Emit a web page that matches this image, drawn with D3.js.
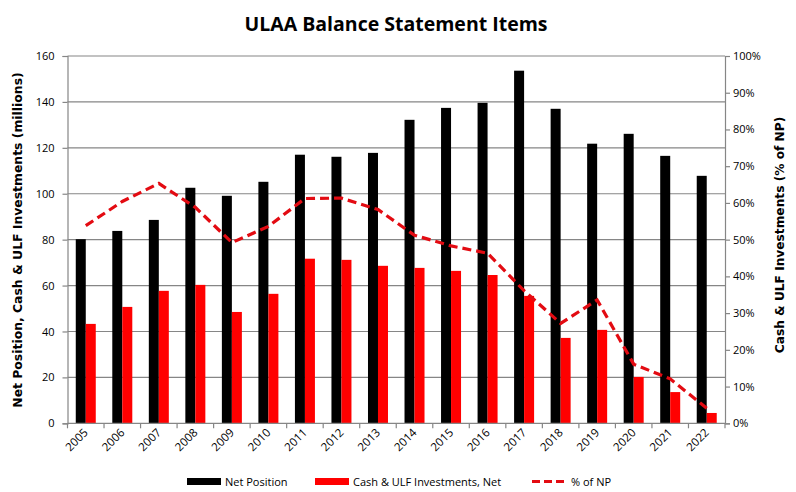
<!DOCTYPE html>
<html><head><meta charset="utf-8">
<script src="https://cdn.jsdelivr.net/npm/d3@7"></script>
<style>body{margin:0;background:#fff;} svg{display:block;font-family:"Open Sans",sans-serif;}</style>
</head><body><svg id="c" width="796" height="492"></svg>
<script>
const years = ["2005","2006","2007","2008","2009","2010","2011","2012","2013","2014","2015","2016","2017","2018","2019","2020","2021","2022"];
const netPosition = [80.2,83.8,88.6,102.6,99.1,105.2,117,116.1,117.8,132.2,137.4,139.6,153.6,137,121.8,126.1,116.5,107.8];
const cashULF = [43.3,50.7,57.7,60.3,48.5,56.4,71.7,71.2,68.6,67.7,66.4,64.6,55.5,37.2,40.7,20.2,13.6,4.5];
const pctNP = [0.538,0.604,0.653,0.588,0.492,0.536,0.612,0.613,0.582,0.512,0.483,0.463,0.361,0.272,0.336,0.161,0.121,0.041];
const leftTicks = [0,20,40,60,80,100,120,140,160];
const rightTicks = [0,0.1,0.2,0.3,0.4,0.5,0.6,0.7,0.8,0.9,1.0];

const svg = d3.select("#c");
const L = 67.5, R = 725, T = 56, B = 423.3;
const x = d3.scaleBand().domain(years).range([L, R]).paddingInner(0).paddingOuter(0);
const y = d3.scaleLinear().domain([0,160]).range([B, T]);
const y2 = d3.scaleLinear().domain([0,1]).range([B, T]);
const grey = "#868686";
const FONT = "Open Sans";
const TFONT = "DejaVu Sans";

// gridlines
svg.append("g").selectAll("line").data(leftTicks.slice(1)).join("line")
  .attr("x1", L).attr("x2", R).attr("y1", d=>y(d)).attr("y2", d=>y(d))
  .attr("stroke", grey).attr("stroke-width", 1.2);

// bars
const bw = 10;
const g = svg.append("g");
g.selectAll("rect.np").data(years).join("rect")
  .attr("x", d => x(d) + x.bandwidth()/2 - bw)
  .attr("width", bw)
  .attr("y", (d,i) => y(netPosition[i]))
  .attr("height", (d,i) => B - y(netPosition[i]))
  .attr("fill", "#000");
g.selectAll("rect.cash").data(years).join("rect")
  .attr("x", d => x(d) + x.bandwidth()/2)
  .attr("width", bw)
  .attr("y", (d,i) => y(cashULF[i]))
  .attr("height", (d,i) => B - y(cashULF[i]))
  .attr("fill", "#ff0000");

// line
const line = d3.line().x((d,i)=>x(years[i]) + x.bandwidth()/2).y(d=>y2(d));
svg.append("path").datum(pctNP).attr("d", line)
  .attr("fill","none").attr("stroke","#e30b12").attr("stroke-width",3.2)
  .attr("stroke-dasharray","9,5");

// axes
const axL = svg.append("g").attr("transform",`translate(${L},0)`)
  .call(d3.axisLeft(y).tickValues(leftTicks).tickSize(5).tickPadding(8));
const axR = svg.append("g").attr("transform",`translate(${R},0)`)
  .call(d3.axisRight(y2).tickValues(rightTicks).tickSize(5).tickPadding(3).tickFormat(d3.format(".0%")));
const axB = svg.append("g").attr("transform",`translate(0,${B})`)
  .call(d3.axisBottom(x).tickSize(0).tickFormat(""));
[axL, axR, axB].forEach(a => {
  a.select(".domain").attr("stroke", grey).attr("stroke-width",1.2);
  a.selectAll(".tick line").attr("stroke", grey).attr("stroke-width",1.2);
  a.selectAll("text").attr("font-family",FONT).attr("font-size","11px").attr("fill","#000");
});
axB.select(".domain").attr("d", `M${L},0H${R}`);
// category boundary ticks
svg.append("g").selectAll("line").data(years.concat(["end"])).join("line")
  .attr("x1",(d,i)=> L + i*x.bandwidth()).attr("x2",(d,i)=> L + i*x.bandwidth())
  .attr("y1",B).attr("y2",B+5).attr("stroke",grey).attr("stroke-width",1.2);
// x labels
svg.append("g").selectAll("text").data(years).join("text")
  .attr("transform", d => `translate(${x(d)+x.bandwidth()/2+3},${B+10}) rotate(-45)`)
  .attr("text-anchor","end").attr("font-family",FONT).attr("font-size","11.5px").text(d=>d);

// titles
svg.append("text").attr("x",396).attr("y",31).attr("text-anchor","middle").attr("font-family",FONT)
  .attr("font-weight","bold").attr("font-size","19.5px").text("ULAA Balance Statement Items");
svg.append("text").attr("transform","translate(22,240) rotate(-90)").attr("text-anchor","middle").attr("font-family",TFONT)
  .attr("font-weight","bold").attr("font-size","12.4px").text("Net Position, Cash & ULF Investments (millions)");
svg.append("text").attr("transform","translate(784,235) rotate(-90)").attr("text-anchor","middle").attr("font-family",TFONT)
  .attr("font-weight","bold").attr("font-size","12.2px").text("Cash & ULF Investments (% of NP)");

// legend
const lg = svg.append("g").attr("font-family",FONT).attr("font-size","11px");
lg.append("rect").attr("x",187).attr("y",478).attr("width",34).attr("height",7).attr("fill","#000");
lg.append("text").attr("x",225).attr("y",485.5).text("Net Position");
lg.append("rect").attr("x",315).attr("y",478).attr("width",34).attr("height",7).attr("fill","#ff0000");
lg.append("text").attr("x",353).attr("y",485.5).text("Cash & ULF Investments, Net");
lg.append("line").attr("x1",532).attr("x2",566).attr("y1",481.5).attr("y2",481.5)
  .attr("stroke","#e30b12").attr("stroke-width",3.2).attr("stroke-dasharray","8,4");
lg.append("text").attr("x",571).attr("y",485.5).text("% of NP");
</script></body></html>
